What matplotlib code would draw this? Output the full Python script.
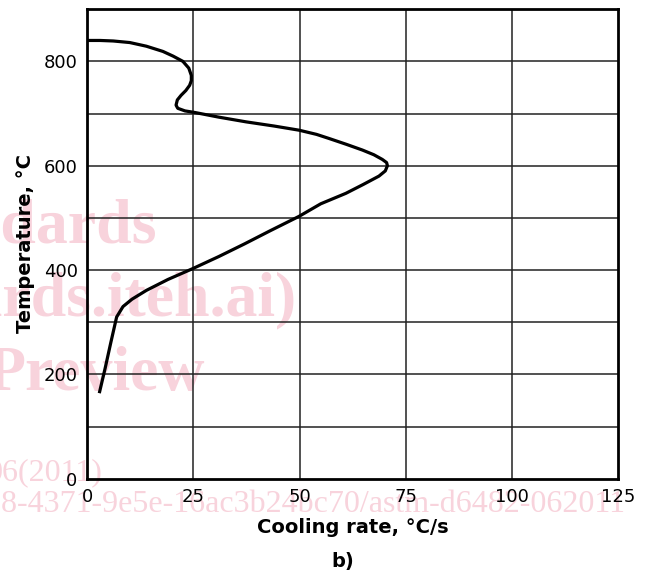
import matplotlib.pyplot as plt

# curve: cooling rate (degC/s) vs temperature (degC)
rate = [0, 3, 6.1, 10, 13.9, 17.8, 20.2, 22.5, 23.9, 24.5, 24.5, 24.1, 23.2, 22.1,
        21.2, 20.9, 21.3, 23, 25.3, 31, 37.4, 44, 49.9, 54, 57, 61, 64.8, 67.5,
        69.5, 70.5, 70.7, 70.2, 68.7, 65, 60.9, 55, 49.9, 43, 37, 31, 24.9, 19,
        13.9, 10.5, 8.4, 6.9, 5.5, 4.2, 2.9]
temp = [840, 840, 839, 836, 829, 819, 810, 800, 787, 773, 763, 754, 744, 735,
        726, 716, 710, 705, 702, 693, 684, 676, 668, 660, 652, 641, 630, 621,
        612, 606, 600, 590, 580, 564, 547, 527, 503, 475, 450, 426, 403, 382,
        361, 344, 330, 310, 260, 212, 167]

xticks = [0, 25, 50, 75, 100, 125]
yticks = [0, 200, 400, 600, 800]
grid_y = [100, 200, 300, 400, 500, 600, 700, 800]

fig = plt.figure(figsize=(6.47, 5.72), dpi=100)
ax = fig.add_axes([0.135, 0.163, 0.82, 0.821])
ax.set_facecolor('none')

# watermark of the source document (behind the plot)
wm = dict(color='#f8d3dc', family='Liberation Serif', zorder=-1)
fig.text(157/647, 1-242/572, 'Standards', ha='right', va='baseline', fontsize=46, weight='bold', **wm)
fig.text(296/647, 1-315/572, '(standards.iteh.ai)', ha='right', va='baseline', fontsize=46, weight='bold', **wm)
fig.text(205/647, 1-390/572, 'Preview', ha='right', va='baseline', fontsize=46, weight='bold', **wm)
fig.text(103/647, 1-480/572, '06(2011)', ha='right', va='baseline', fontsize=23, **wm)
fig.text(625/647, 1-512/572, '98-4371-9e5e-16ac3b24bc70/astm-d6482-062011', ha='right',
         va='baseline', fontsize=23, **wm)

for v in xticks[1:-1]:
    ax.axvline(v, color='#222222', lw=1.1, zorder=1)
for v in grid_y:
    ax.axhline(v, color='#222222', lw=1.1, zorder=1)

ax.plot(rate, temp, color='black', lw=2.3, solid_joinstyle='round', zorder=3)

ax.set_xlim(0, 125)
ax.set_ylim(0, 900)
ax.set_xticks(xticks)
ax.set_yticks(yticks)
ax.tick_params(length=0, labelsize=13, pad=7)
for s in ax.spines.values():
    s.set_linewidth(2)

ax.set_xlabel('Cooling rate, °C/s', fontsize=14, fontweight='bold', labelpad=8)
ax.set_ylabel('Temperature, °C', fontsize=14, fontweight='bold')
ax.yaxis.set_label_coords(-0.099, 0.5)
fig.text(343/647, 1-562/572, 'b)', ha='center', va='center', fontsize=14, fontweight='bold')

fig.savefig('out.png', dpi=100)
